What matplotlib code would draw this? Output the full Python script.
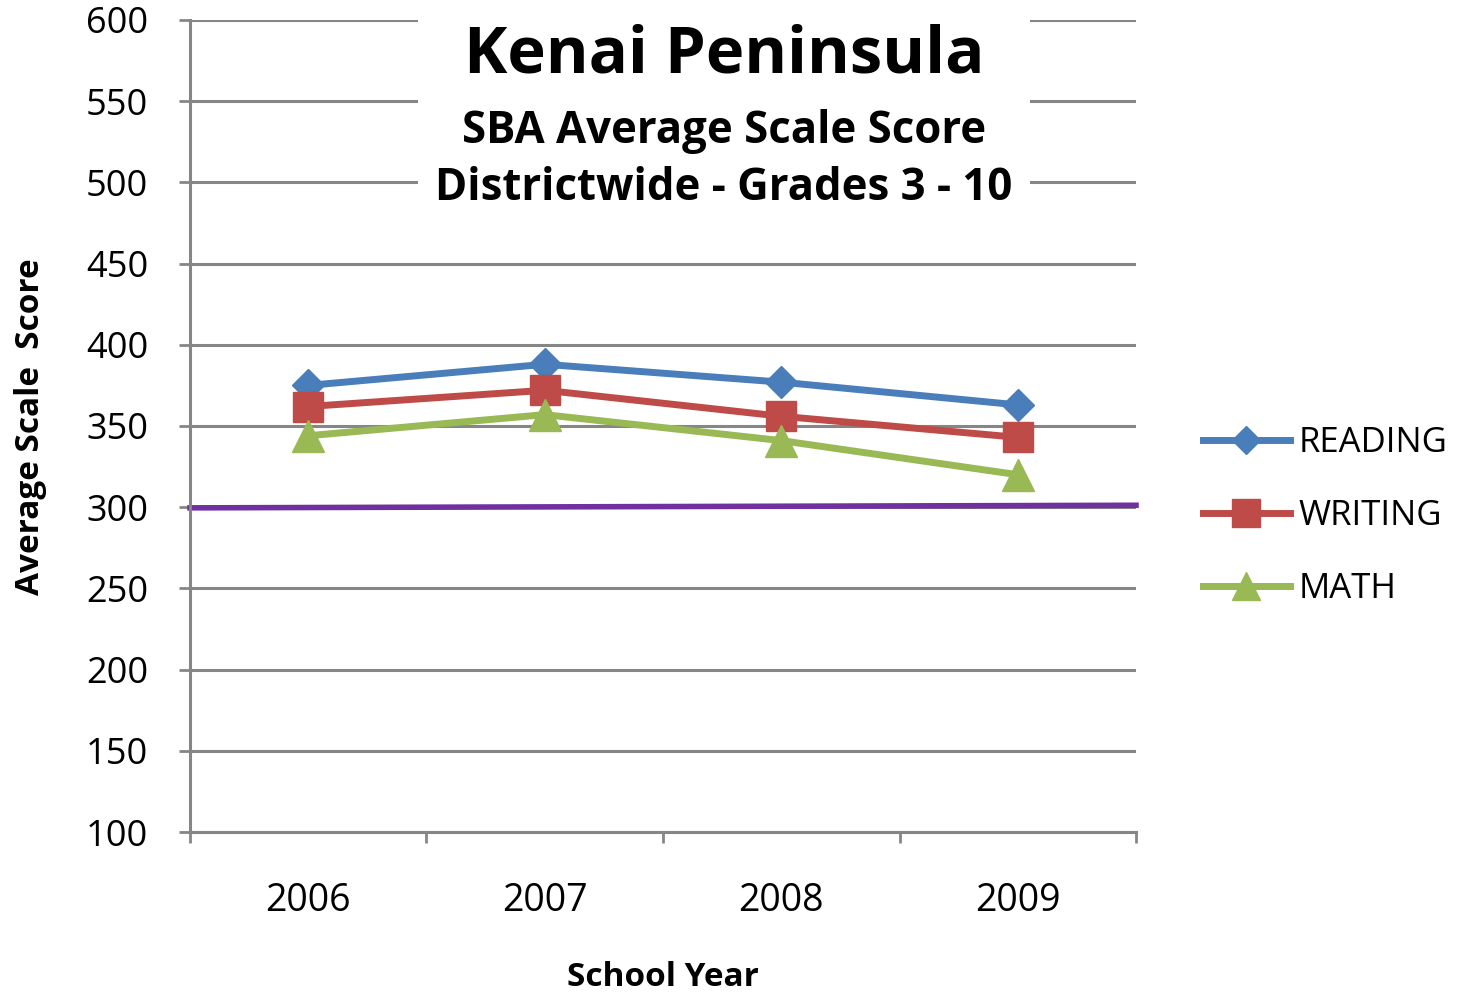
import matplotlib
matplotlib.use("Agg")
import matplotlib.pyplot as plt
import numpy as np
from matplotlib.patches import Rectangle

years = ["2006", "2007", "2008", "2009"]
reading = [375, 388, 377, 363]
writing = [362, 372, 356, 343]
math_scores = [344, 357, 341, 320]
target = [299.6, 301.2]   # purple reference line, left end / right end

plt.rcParams['font.family'] = ['Open Sans', 'DejaVu Sans']
grey = '#868686'

fig = plt.figure(figsize=(14.66, 9.98), dpi=100)
ax = fig.add_axes([0.1296, 0.1663, 0.7749 - 0.1296, 0.98 - 0.1663])

x = np.arange(len(years))
ax.set_xlim(-0.5, len(years) - 0.5)
ax.set_ylim(100, 600)
ax.set_yticks(np.arange(100, 601, 50))
ax.yaxis.grid(True, color=grey, linewidth=2.2)
ax.set_axisbelow(True)

# white box behind the title, covering the gridlines
ax.add_patch(Rectangle((418 / 1466, 1 - 215 / 998), (1030 - 418) / 1466, 215 / 998,
                       transform=fig.transFigure, facecolor='white', edgecolor='none',
                       zorder=1.5, clip_on=False))

ax.plot(ax.get_xlim(), target, color='#7030A0', linewidth=4, zorder=2, clip_on=False)
ax.plot(x, reading, color='#4A7EBB', linewidth=5, marker='D', markersize=16, label='READING', zorder=3)
ax.plot(x, writing, color='#BE4B48', linewidth=5, marker='s', markersize=22, label='WRITING', zorder=3)
ax.plot(x, math_scores, color='#98B954', linewidth=5, marker='^', markersize=23, label='MATH', zorder=3)

for s in ['top', 'right']:
    ax.spines[s].set_visible(False)
for s in ['left', 'bottom']:
    ax.spines[s].set_color(grey)
    ax.spines[s].set_linewidth(2.2)

ax.set_xticks(x)
ax.set_xticklabels(years)
ax.set_xticks(np.arange(-0.5, len(years), 1), minor=True)
ax.tick_params(axis='x', which='major', length=0, pad=36, labelsize=27)
ax.tick_params(axis='x', which='minor', length=8, width=2, color=grey, direction='out')
ax.tick_params(axis='y', length=8, width=2, color=grey, pad=22, labelsize=26)

ax.set_ylabel("Average Scale  Score", fontsize=24, fontweight='bold', va='center')
ax.yaxis.set_label_coords((31 - 190) / 946, (832 - 427) / 812)
ax.set_xlabel("School Year", fontsize=24, fontweight='bold', va='center')
ax.xaxis.set_label_coords((663 - 190) / 946, (832 - 977) / 812)

fig.text(724 / 1466, 1 - 56 / 998, "Kenai Peninsula", ha='center', va='center',
         fontsize=47, fontweight='bold')
fig.text(724 / 1466, 1 - 131 / 998, "SBA Average Scale Score", ha='center', va='center',
         fontsize=31.5, fontweight='bold')
fig.text(724 / 1466, 1 - 189 / 998, "Districtwide - Grades 3 - 10", ha='center', va='center',
         fontsize=31.5, fontweight='bold')

ax.legend(loc='center left', bbox_to_anchor=(1203 / 1466, 1 - 516 / 998),
          bbox_transform=fig.transFigure, frameon=False, fontsize=25,
          handlelength=2.5, labelspacing=1.12, handletextpad=0.25, borderaxespad=0,
          borderpad=0, markerscale=0.9)

plt.savefig('out.png', dpi=100)
